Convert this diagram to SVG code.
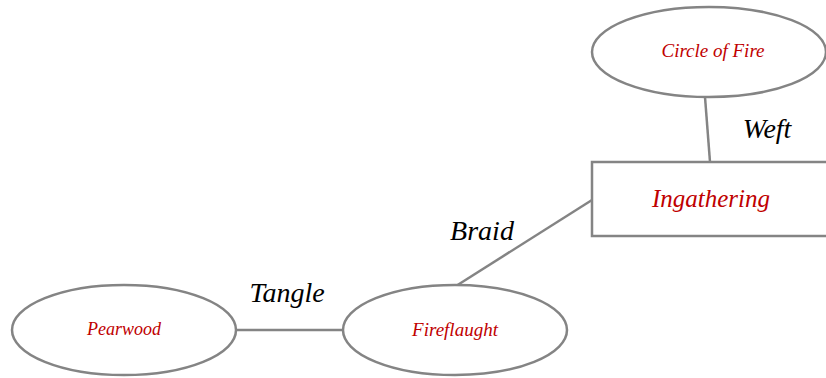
<svg xmlns="http://www.w3.org/2000/svg" width="826" height="378" viewBox="0 0 826 378">
<style>
.shape{fill:#ffffff;stroke:#848484;stroke-width:2.5}
.conn{stroke:#848484;stroke-width:2.5;fill:none}
.nt{font-family:"Liberation Serif",serif;font-style:italic;fill:#c00000;text-anchor:middle;dominant-baseline:central}
.lbl{font-family:"Liberation Serif",serif;font-style:italic;fill:#000000;text-anchor:middle;dominant-baseline:central;font-size:28px}
</style>
<rect width="826" height="378" fill="#ffffff"/>
<g id="connectors">
<line class="conn" x1="705" y1="97" x2="710" y2="162"/>
<line class="conn" x1="592" y1="200" x2="456" y2="286"/>
<line class="conn" x1="236" y1="330" x2="343" y2="330"/>
<text class="lbl" x="767" y="128" font-size="30">Weft</text>
<text class="lbl" x="482" y="230">Braid</text>
<text class="lbl" x="287" y="292">Tangle</text>
</g>
<g id="circle-of-fire">
<ellipse class="shape" cx="709" cy="52" rx="117" ry="45"/>
<text class="nt" x="713" y="50" font-size="19">Circle of Fire</text>
</g>
<g id="ingathering">
<rect class="shape" x="592" y="162" width="240" height="74"/>
<text class="nt" x="711" y="198" font-size="25">Ingathering</text>
</g>
<g id="pearwood">
<ellipse class="shape" cx="124" cy="330" rx="112" ry="45"/>
<text class="nt" x="124" y="329" font-size="18">Pearwood</text>
</g>
<g id="fireflaught">
<ellipse class="shape" cx="455" cy="330" rx="112" ry="45"/>
<text class="nt" x="455" y="329" font-size="19">Fireflaught</text>
</g>
</svg>
